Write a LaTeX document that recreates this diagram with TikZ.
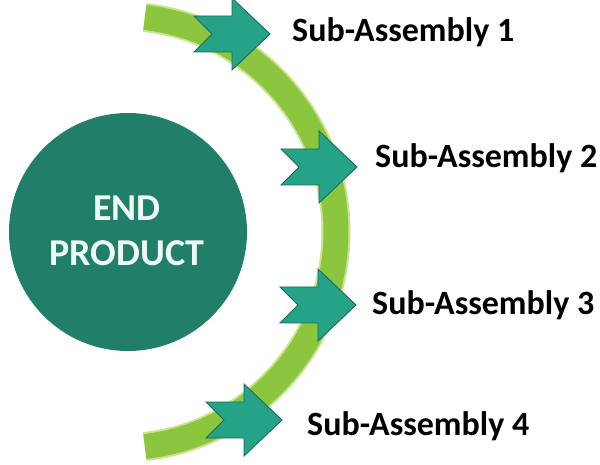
\documentclass[tikz,border=0pt]{standalone}
\usepackage{fontspec}
\setmainfont{Carlito}
\definecolor{circfill}{HTML}{217E69}
\definecolor{arrfill}{HTML}{26A286}
\definecolor{arrline}{HTML}{1B6B5A}
\definecolor{arcgreen}{HTML}{8CC63F}
\definecolor{arcrim}{HTML}{C9E58F}
\definecolor{endtext}{HTML}{EEF8F5}
\tikzset{
  labeltext/.style={anchor=base west, inner sep=0pt, font=\fontsize{34}{36}\selectfont\bfseries, text=black},
  endcircle/.style={circle, fill=circfill, minimum size=238pt, inner sep=0pt},
  notcharrow/.pic={
    \fill[arrfill, draw=arrline, line width=0.9pt, line join=miter]
      (0,0) -- (-38,36) -- (-38,18) -- (-76,18) -- (-58,0) -- (-76,-18) -- (-38,-18) -- (-38,-36) -- cycle;
  }
}
\begin{document}
\begin{tikzpicture}[x=1pt,y=1pt]
\useasboundingbox[fill=white] (0,0) rectangle (600,464);
% end product circle
\node[endcircle] (endp) at (128,232) {};
\node[align=center, text=endtext, font=\fontsize{38}{45}\selectfont\bfseries, inner sep=0pt] (endtxt) at (127,233) {END\\PRODUCT};
% green arc
\coordinate (arccenter) at (120,232);
\draw[arcrim, line width=29pt] (arccenter) ++(83.4:216) arc[start angle=83.4, end angle=-83.4, radius=216];
\draw[arcgreen, line width=25pt] (arccenter) ++(83.4:216) arc[start angle=83.4, end angle=-83.4, radius=216];
% arrows
\coordinate (tipa) at (270,430);
\coordinate (tipb) at (357,297);
\coordinate (tipc) at (356,159);
\coordinate (tipd) at (282,44);
\pic at (tipa) {notcharrow};
\pic at (tipb) {notcharrow};
\pic at (tipc) {notcharrow};
\pic at (tipd) {notcharrow};
% labels
\node[labeltext] (sa1) at (292,422) {Sub-Assembly 1};
\node[labeltext] (sa2) at (375,296) {Sub-Assembly 2};
\node[labeltext] (sa3) at (372,149) {Sub-Assembly 3};
\node[labeltext] (sa4) at (307,29) {Sub-Assembly 4};
\end{tikzpicture}
\end{document}
